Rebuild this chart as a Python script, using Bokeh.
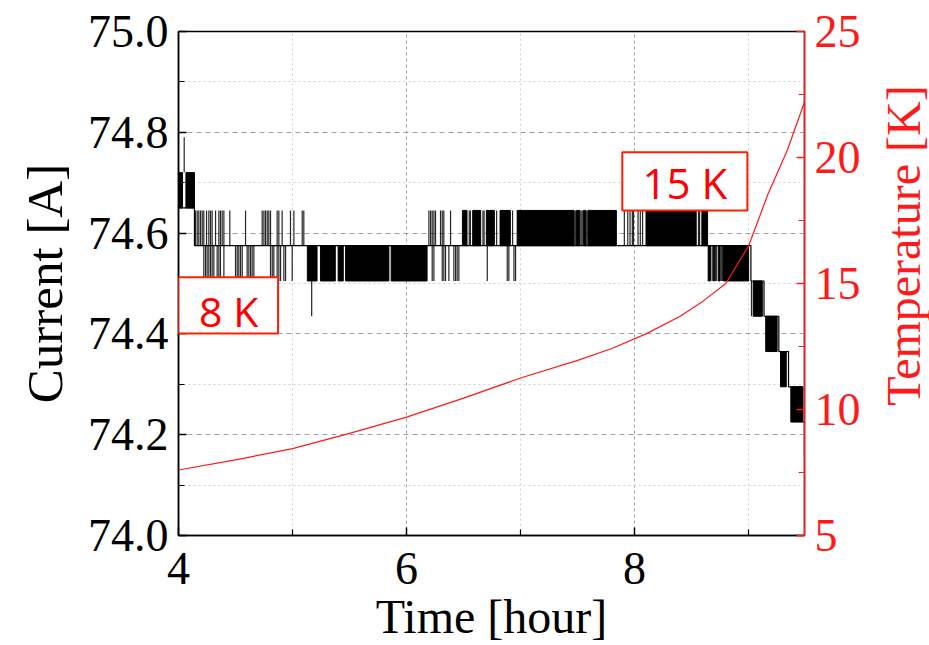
from bokeh.plotting import figure
from bokeh.layouts import row
from bokeh.models import Range1d, LinearAxis, FixedTicker, Label, BoxAnnotation, PrintfTickFormatter
from bokeh.embed import file_html
from bokeh.resources import INLINE

# ---------------- data ----------------
x_major = [4, 6, 8]
x_minor = [5, 7, 9]
y_major = [74.0, 74.2, 74.4, 74.6, 74.8, 75.0]
y_minor = [74.1, 74.3, 74.5, 74.7, 74.9]
t_major = [5, 10, 15, 20, 25]
t_minor = [7.5, 12.5, 17.5, 22.5]

# Current: dense toggling between two quantised readings -> solid bands
band_t0 = [4.000, 4.065, 5.130, 5.245, 5.400, 5.465, 5.865,
           6.490, 6.580, 6.700, 6.820, 6.970, 7.490, 7.550, 7.590, 8.100, 8.590,
           8.645, 8.690, 8.735, 8.780, 9.040, 9.150, 9.280, 9.370]
band_t1 = [4.035, 4.140, 5.215, 5.375, 5.445, 5.845, 6.180,
           6.530, 6.650, 6.770, 6.910, 7.470, 7.520, 7.570, 7.840, 8.540, 8.640,
           8.665, 8.700, 8.750, 9.000, 9.120, 9.250, 9.330, 9.470]
band_lo = [74.650, 74.650, 74.505, 74.505, 74.505, 74.505, 74.505,
           74.575, 74.575, 74.575, 74.575, 74.575, 74.575, 74.575, 74.575, 74.575, 74.575,
           74.505, 74.505, 74.505, 74.505, 74.435, 74.365, 74.295, 74.225]
band_hi = [74.720, 74.720, 74.575, 74.575, 74.575, 74.575, 74.575,
           74.645, 74.645, 74.645, 74.645, 74.645, 74.645, 74.645, 74.645, 74.645, 74.645,
           74.575, 74.575, 74.575, 74.575, 74.505, 74.435, 74.365, 74.295]

# Current: resting reading (step trace)
base_t = [4.00, 4.14, 5.13, 6.18, 6.49, 7.85, 8.64, 9.02, 9.135, 9.265, 9.35, 9.475, 9.49]
base_I = [74.650, 74.575, 74.575, 74.575, 74.575, 74.575, 74.575, 74.505, 74.435,
          74.365, 74.295, 74.225, 74.155]

# Current: isolated single toggles (time, low reading, high reading)
tog_t = [4.050,
         4.149, 4.164, 4.178, 4.193, 4.208, 4.222, 4.246, 4.266, 4.281, 4.295, 4.325, 4.354,
         4.368, 4.383, 4.398, 4.450, 4.588, 4.734, 4.749, 4.763, 4.778, 4.792, 4.807, 4.865,
         4.880, 4.909, 4.982, 5.012, 5.085, 5.099,
         4.222, 4.237, 4.251, 4.266, 4.281, 4.295, 4.310, 4.339, 4.354, 4.368, 4.398, 4.500,
         4.515, 4.529, 4.544, 4.559, 4.602, 4.617, 4.632, 4.646, 4.661, 4.807, 4.822, 4.836,
         4.865, 4.880, 4.895, 4.924, 4.939, 4.997,
         5.168,
         6.196, 6.211, 6.225, 6.240, 6.254, 6.298, 6.313, 6.327, 6.386,
         6.225, 6.240, 6.313, 6.327, 6.342, 6.371, 6.415, 6.430, 6.444, 6.459,
         6.550, 6.560, 6.670, 6.680, 6.790, 6.860, 6.880, 6.930, 7.480, 7.530, 7.540, 7.580,
         6.708, 6.883, 6.897, 6.942, 6.956,
         7.910, 7.940, 7.960, 7.980, 7.990, 8.030, 8.050, 8.070, 8.560, 8.570,
         8.680, 8.710, 8.720, 8.760, 8.770,
         9.025]
tog_lo = ([74.720]
          + [74.575] * 30
          + [74.505] * 30
          + [74.435]
          + [74.575] * 9
          + [74.505] * 10
          + [74.575] * 12
          + [74.505] * 5
          + [74.575] * 10
          + [74.505] * 5
          + [74.435])
tog_hi = ([74.790]
          + [74.645] * 30
          + [74.575] * 30
          + [74.505]
          + [74.645] * 9
          + [74.575] * 10
          + [74.645] * 12
          + [74.575] * 5
          + [74.645] * 10
          + [74.575] * 5
          + [74.505])

# Temperature (right axis)
temp_t = [4.0, 4.5, 5.0, 5.5, 6.0, 6.5, 7.0, 7.5, 7.8, 8.1, 8.4, 8.6, 8.8, 9.0, 9.17, 9.34, 9.49]
temp_K = [7.6, 8.0, 8.45, 9.05, 9.7, 10.45, 11.25, 11.95, 12.42, 13.0, 13.7, 14.3, 15.0,
          16.5, 18.55, 20.3, 22.2]

# ---------------- figure ----------------
SERIF = "Liberation Serif"
RED = "#ff1a1a"

p = figure(width=876, height=645, x_range=Range1d(4, 9.49), y_range=Range1d(74.0, 75.0),
           output_backend="svg", toolbar_location=None,
           min_border_left=178, min_border_right=72, min_border_top=31, min_border_bottom=110)
p.extra_y_ranges = {"temp": Range1d(5, 25)}
p.outline_line_color = "black"
p.outline_line_width = 1.5
p.background_fill_color = "white"
p.border_fill_color = "white"

xa = p.xaxis[0]
xa.ticker = FixedTicker(ticks=x_major, minor_ticks=x_minor)
xa.axis_label = "Time [hour]"
ya = p.yaxis[0]
ya.ticker = FixedTicker(ticks=y_major, minor_ticks=y_minor)
ya.formatter = PrintfTickFormatter(format="%.1f")
ya.axis_label = "Current [A]"

ra = LinearAxis(y_range_name="temp", ticker=FixedTicker(ticks=t_major, minor_ticks=t_minor))
p.add_layout(ra, "right")

for ax in (xa, ya, ra):
    ax.major_label_text_font = SERIF
    ax.major_label_text_font_size = "46px"
    ax.axis_label_text_font = SERIF
    ax.axis_label_text_font_size = "48px"
    ax.axis_label_text_font_style = "normal"
    ax.major_tick_in = 8
    ax.major_tick_out = 0
    ax.minor_tick_in = 6
    ax.minor_tick_out = 0
    ax.axis_line_width = 1.5
    ax.major_tick_line_width = 1.5
    ax.minor_tick_line_width = 1.2
    ax.major_label_standoff = 10
    ax.axis_label_standoff = 4

ya.axis_label_text_font_size = "51px"
ya.axis_label_standoff = 12
xa.major_label_standoff = 17
xa.axis_label_standoff = 3

for ax in (xa, ya):
    ax.axis_line_color = "black"
    ax.major_tick_line_color = "black"
    ax.minor_tick_line_color = "black"
    ax.major_label_text_color = "black"
    ax.axis_label_text_color = "black"

ra.axis_line_color = RED
ra.major_tick_line_color = RED
ra.minor_tick_line_color = RED
ra.major_label_text_color = RED

p.xgrid.grid_line_color = "#a0a0a0"
p.xgrid.grid_line_dash = "3 3"
p.xgrid.minor_grid_line_color = "#d0d0d0"
p.xgrid.minor_grid_line_dash = "2 3"
p.ygrid.grid_line_color = "#a0a0a0"
p.ygrid.grid_line_dash = "5 4"
p.ygrid.minor_grid_line_color = "#d0d0d0"
p.ygrid.minor_grid_line_dash = "2 3"

# current trace
p.step(base_t, base_I, mode="after", line_color="black", line_width=1.2)
p.segment(x0=tog_t, y0=tog_lo, x1=tog_t, y1=tog_hi, line_color="black", line_width=1.2, line_alpha=0.85)
p.quad(left=band_t0, right=band_t1, bottom=band_lo, top=band_hi,
       fill_color="black", line_color="black", line_width=1)

# temperature
p.line(temp_t, temp_K, y_range_name="temp", line_color=RED, line_width=1.2)

# annotations
p.add_layout(BoxAnnotation(left=4.0, right=4.873, top=74.5125, bottom=74.401,
                           fill_color="white", fill_alpha=1, line_color="#ff2000",
                           line_alpha=1, line_width=2))
p.add_layout(BoxAnnotation(left=7.892, right=8.989, top=74.7605, bottom=74.645,
                           fill_color="white", fill_alpha=1, line_color="#ff2000",
                           line_alpha=1, line_width=2))
p.add_layout(Label(x=4.44, y=74.445, text="8 K", text_font="Open Sans", text_font_size="41px",
                   text_color="#ff0000", text_align="center", text_baseline="middle"))
p.add_layout(Label(x=8.44, y=74.701, text="15 K", text_font="Open Sans", text_font_size="42px",
                   text_color="#ff0000", text_align="center", text_baseline="middle"))

# right axis title in a narrow strip (reads bottom-to-top, as in the reference)
q = figure(width=53, height=645, x_range=Range1d(0, 53), y_range=Range1d(0, 645),
           output_backend="svg", toolbar_location=None, x_axis_type=None, y_axis_type=None,
           min_border_left=0, min_border_right=0, min_border_top=0, min_border_bottom=0)
q.outline_line_color = None
q.grid.visible = False
q.background_fill_color = "white"
q.border_fill_color = "white"
q.add_layout(Label(x=27, y=371, text="Temperature [K]", text_font=SERIF,
                   text_font_size="48px", text_color=RED, angle=90, angle_units="deg",
                   text_align="center", text_baseline="middle"))

layout = row(p, q, spacing=0)
open("out.html", "w").write(file_html(layout, INLINE))
